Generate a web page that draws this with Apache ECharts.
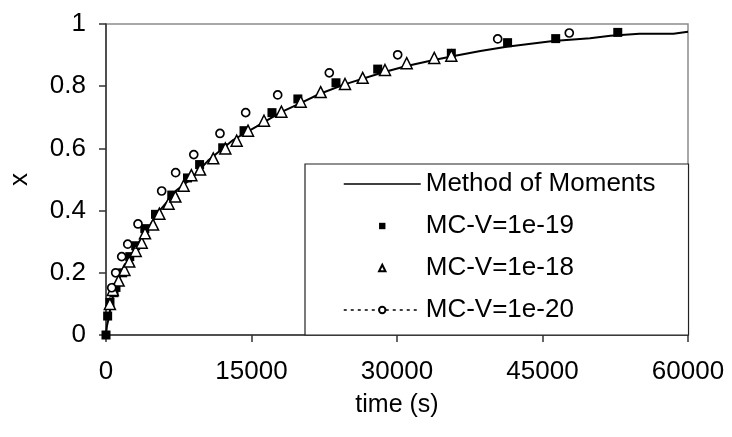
<!DOCTYPE html>
<html>
<head>
<meta charset="utf-8">
<script src="https://cdn.jsdelivr.net/npm/echarts@6/dist/echarts.min.js"></script>
<style>
html,body{margin:0;padding:0;background:#fff;}
#main{width:732px;height:437px;}
</style>
</head>
<body>
<div id="main"></div>
<script>
// ---- data ----
const seriesNames = ['Method of Moments', 'MC-V=1e-19', 'MC-V=1e-18', 'MC-V=1e-20'];
const xTicks = [0, 15000, 30000, 45000, 60000];
const yTicks = [0, 0.2, 0.4, 0.6, 0.8, 1];

const methodOfMoments = [[0,0],[100,0.03],[250,0.05],[600,0.11],[1100,0.166],[1800,0.209],[2800,0.268],[4200,0.338],[5600,0.402],[7300,0.466],[8700,0.5],[10500,0.56],[13100,0.627],[15500,0.67],[18000,0.716],[20000,0.745],[22000,0.775],[24600,0.806],[28600,0.845],[31000,0.865],[33800,0.884],[36000,0.898],[38600,0.913],[41300,0.927],[46100,0.945],[49900,0.954],[52000,0.962],[55000,0.969],[58500,0.969],[60000,0.975]];

const mcV19 = [[0,0],[170,0.061],[410,0.105],[825,0.136],[1030,0.153],[1720,0.2],[2450,0.252],[3060,0.287],[4000,0.342],[5100,0.388],[6780,0.45],[8400,0.505],[9650,0.548],[12030,0.602],[14230,0.657],[17110,0.715],[19780,0.759],[23710,0.811],[28010,0.855],[35600,0.906],[41400,0.94],[46360,0.953],[52760,0.973]];

const mcV18 = [[400,0.1],[700,0.145],[1300,0.175],[1900,0.209],[2400,0.236],[3060,0.27],[3680,0.297],[4020,0.327],[4850,0.355],[5500,0.39],[6450,0.422],[7150,0.445],[8000,0.48],[8800,0.514],[9700,0.532],[11060,0.568],[12300,0.6],[13470,0.625],[14640,0.657],[16290,0.689],[18080,0.718],[20070,0.75],[22130,0.781],[24640,0.807],[26460,0.827],[28760,0.852],[31000,0.874],[33840,0.891],[35600,0.898]];

const mcV20 = [[590,0.152],[1000,0.2],[1620,0.252],[2240,0.292],[3300,0.357],[5740,0.463],[7180,0.522],[9050,0.58],[11750,0.648],[14400,0.715],[17700,0.772],[23020,0.843],[30070,0.901],[40380,0.952],[47760,0.971]];

const FONT = 'Liberation Sans, Arial, sans-serif';
const chart = echarts.init(document.getElementById('main'), null, {renderer: 'canvas'});

chart.setOption({
  animation: false,
  backgroundColor: '#fff',
  textStyle: {fontFamily: FONT, color: '#000'},
  grid: {
    left: 106, top: 24, right: 44, bottom: 102,
    outerBoundsMode: 'none', containLabel: false,
    show: true, borderColor: '#8c8c8c', borderWidth: 1.5, backgroundColor: '#fff'
  },
  xAxis: {
    type: 'value', min: xTicks[0], max: xTicks[xTicks.length - 1], interval: xTicks[1] - xTicks[0],
    name: 'time (s)', nameLocation: 'middle', nameGap: 58,
    nameTextStyle: {fontSize: 25, color: '#000', fontFamily: FONT},
    axisLine: {show: true, lineStyle: {color: '#333', width: 1.5}},
    axisTick: {show: true, inside: false, length: 7, lineStyle: {color: '#333', width: 1.5}},
    axisLabel: {fontSize: 26, color: '#000', margin: 24, fontFamily: FONT, formatter: v => String(v)},
    splitLine: {show: false}
  },
  yAxis: {
    type: 'value', min: yTicks[0], max: yTicks[yTicks.length - 1], interval: 0.2,
    name: 'x', nameLocation: 'middle', nameGap: 73, nameRotate: 90,
    nameTextStyle: {fontSize: 26, color: '#000', fontFamily: FONT},
    axisLine: {show: true, lineStyle: {color: '#333', width: 1.5}},
    axisTick: {show: true, inside: false, length: 7, lineStyle: {color: '#333', width: 1.5}},
    axisLabel: {fontSize: 26, color: '#000', margin: 20, fontFamily: FONT, formatter: v => String(v)},
    splitLine: {show: false}
  },
  legend: {
    orient: 'vertical', left: 305, top: 164,
    padding: [7, 33, 12, 38], itemGap: 16,
    itemWidth: 77, itemHeight: 8,
    backgroundColor: '#fff', borderColor: '#222', borderWidth: 1.2,
    textStyle: {fontSize: 26, color: '#000', fontFamily: FONT, lineHeight: 25},
    data: [
      {name: seriesNames[0], lineStyle: {width: 1.5, color: '#000', type: 'solid'}, itemStyle: {opacity: 0}},
      {name: seriesNames[1], lineStyle: {width: 0}},
      {name: seriesNames[2], lineStyle: {width: 0}},
      {name: seriesNames[3], lineStyle: {width: 1.5, color: '#000', type: [3, 4]}}
    ]
  },
  series: [
    {
      name: seriesNames[0], type: 'line', data: methodOfMoments,
      symbol: 'none', smooth: false,
      lineStyle: {color: '#000', width: 2}, itemStyle: {color: '#000'}, z: 2
    },
    {
      name: seriesNames[1], type: 'line', data: mcV19,
      symbol: 'rect', symbolSize: 9, showSymbol: true,
      lineStyle: {width: 0, color: '#000'}, itemStyle: {color: '#000'}, z: 3
    },
    {
      name: seriesNames[2], type: 'line', data: mcV18,
      symbol: 'triangle', symbolSize: 11, showSymbol: true,
      lineStyle: {width: 0, color: '#000'}, itemStyle: {color: '#fff', borderColor: '#000', borderWidth: 1.5}, z: 4
    },
    {
      name: seriesNames[3], type: 'line', data: mcV20,
      symbol: 'circle', symbolSize: 8, showSymbol: true,
      lineStyle: {width: 0, color: '#000'}, itemStyle: {color: '#fff', borderColor: '#000', borderWidth: 1.7}, z: 5
    }
  ]
});
</script>
</body>
</html>
